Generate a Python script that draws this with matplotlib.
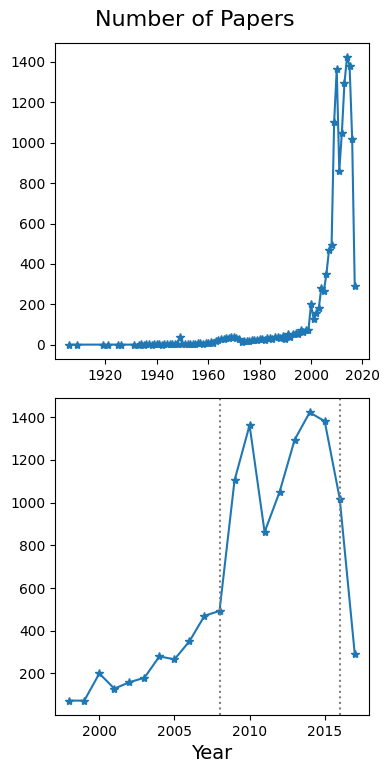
import numpy as np
import matplotlib
matplotlib.use('Agg')
import matplotlib.pyplot as plt

# early sparse years
early_years = [1906, 1909, 1919, 1921, 1925, 1926, 1931]
early_counts = [1, 1, 1, 1, 1, 1, 1]

# 1933 - 1997
mid_years = list(range(1933, 1998))
mid_counts = [1, 2, 1, 3, 2, 1, 2, 3, 2, 1, 2, 3, 2, 4, 3, 3,
              40,
              2, 4, 3, 5, 6, 4, 7, 8, 6, 9, 10, 12, 11,
              20, 25, 28, 30, 35, 32, 38, 40, 35, 30,
              15, 18, 20, 18, 22, 25, 22, 28, 30, 25, 32, 35, 30, 38, 40,
              35, 45, 30, 55, 40, 55, 60, 55, 75, 65]

# 1998 - 2017
recent_years = list(range(1998, 2018))
recent_counts = [73, 73, 200, 129, 159, 180, 280, 266, 351, 470,
                 493, 1104, 1362, 862, 1050, 1294, 1422, 1381, 1019, 293]

years = early_years + mid_years + recent_years
counts = early_counts + mid_counts + recent_counts

fig = plt.figure(figsize=(3.89, 7.73), dpi=100)
ax1 = fig.add_axes([0.1414, 0.5356, 0.8072, 0.4088])
ax2 = fig.add_axes([0.1414, 0.075, 0.8072, 0.4101])

ax1.plot(years, counts, marker='*')
ax1.set_xticks([1920, 1940, 1960, 1980, 2000, 2020])

ax2.plot(recent_years, recent_counts, marker='*')
ax2.axvline(2008, color='gray', linestyle=':')
ax2.axvline(2016, color='gray', linestyle=':')
ax2.set_xticks([2000, 2005, 2010, 2015])
ax2.set_xlabel('Year', fontsize=14)

fig.suptitle('Number of Papers', fontsize=16, y=0.987)

fig.savefig('out.png', dpi=100)
